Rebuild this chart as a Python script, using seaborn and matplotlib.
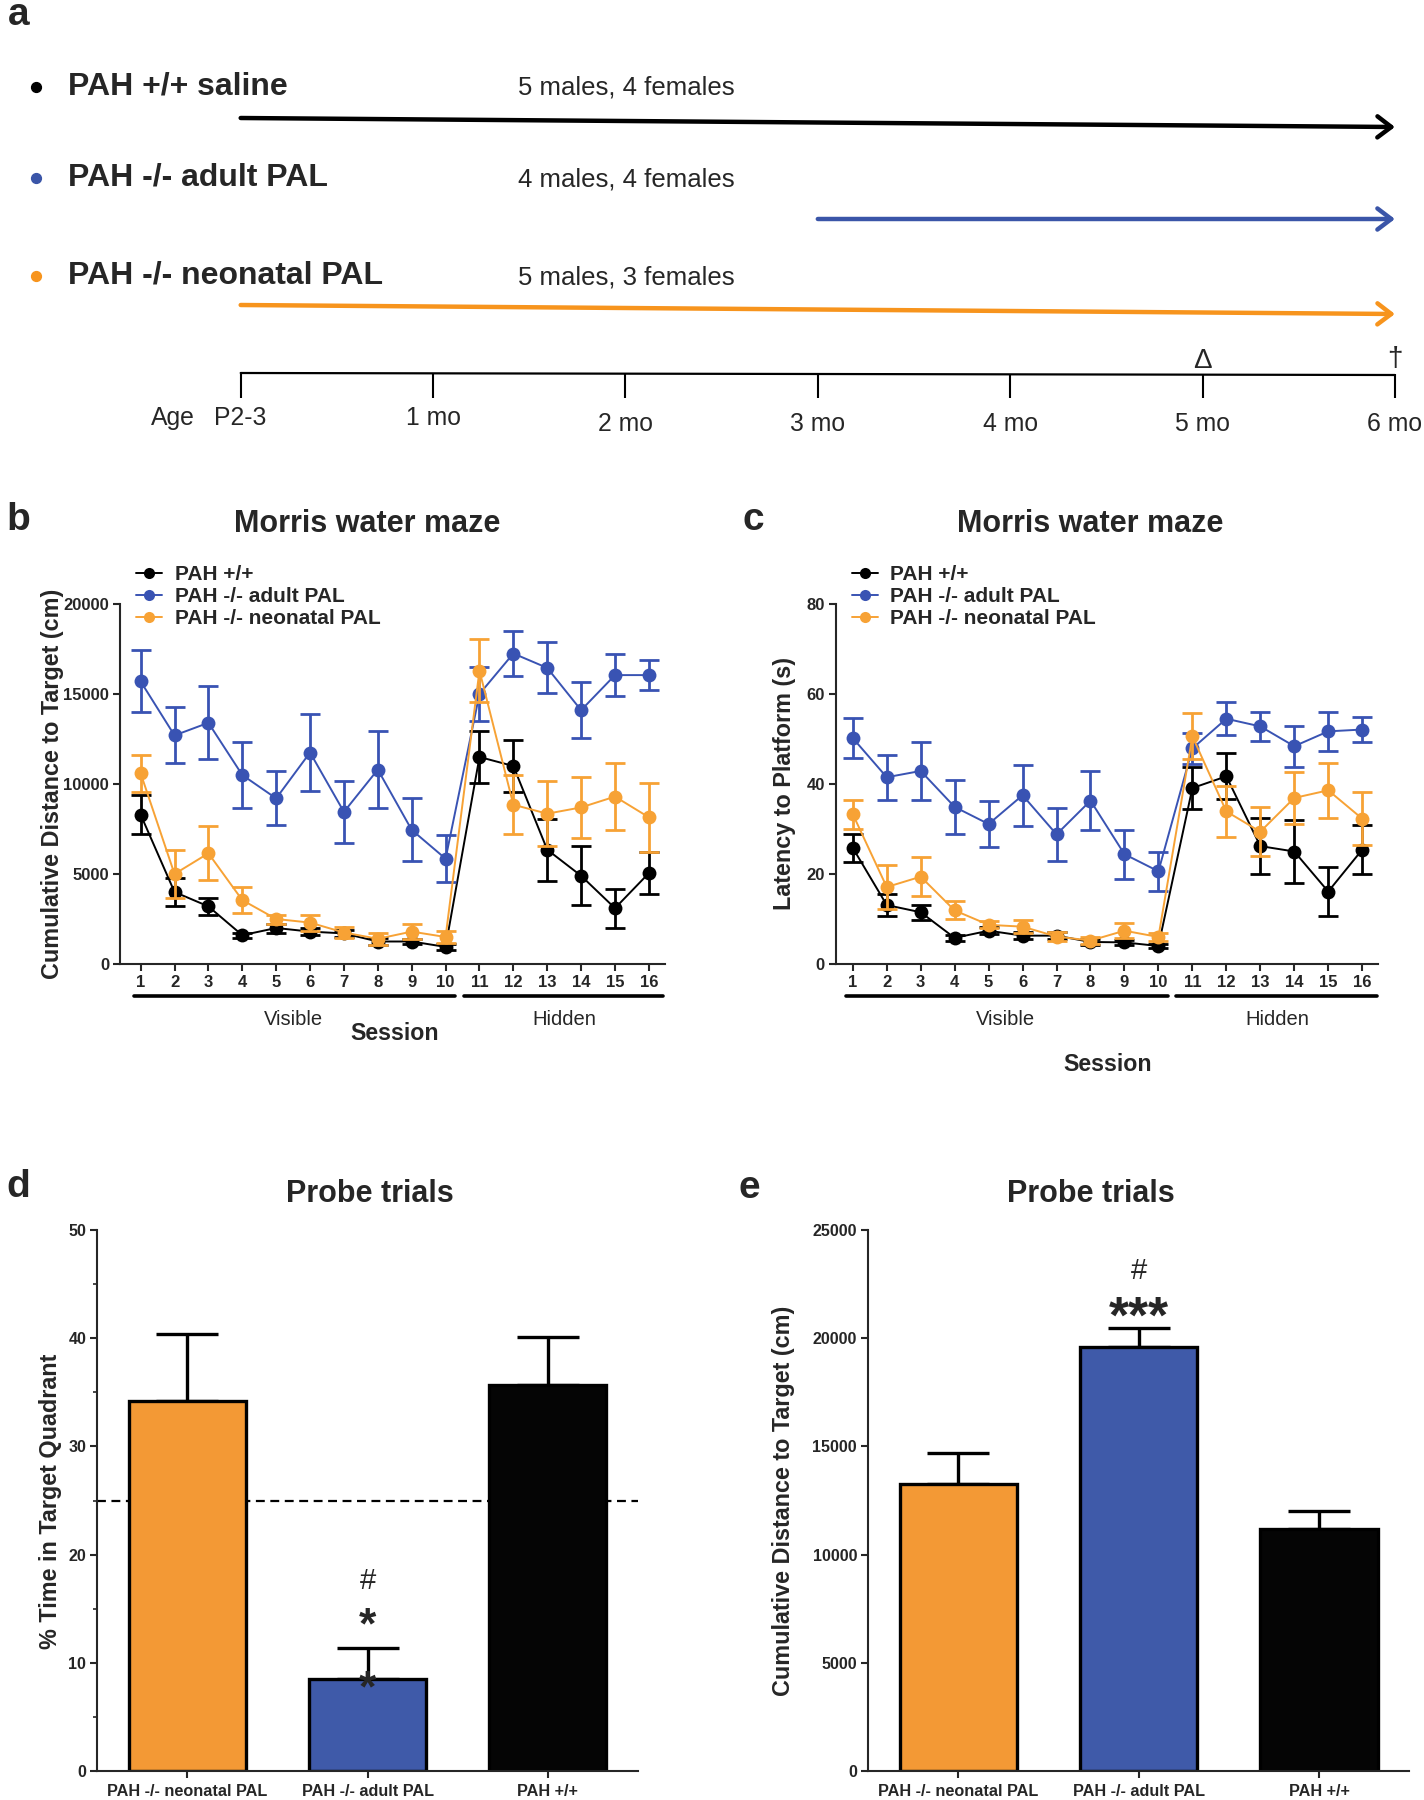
import numpy as np
import pandas as pd
import matplotlib
matplotlib.use('Agg')
import matplotlib.pyplot as plt
import matplotlib.transforms as mtransforms
import seaborn as sns

# ---- data ----
groups = ['PAH +/+', 'PAH -/- adult PAL', 'PAH -/- neonatal PAL']
sessions = list(range(1, 17))

dist_wt = [8300, 4000, 3200, 1600, 2000, 1800, 1700, 1250, 1250, 950, 11500, 11000, 6350, 4900, 3100, 5050]
dist_wt_err = [1100, 800, 490, 150, 250, 200, 200, 200, 150, 150, 1420, 1440, 1720, 1640, 1080, 1150]
dist_adult = [15700, 12700, 13400, 10500, 9200, 11750, 8450, 10800, 7450, 5850, 15000, 17250, 16450, 14100, 16050, 16050]
dist_adult_err = [1720, 1560, 2030, 1815, 1500, 2160, 1700, 2130, 1750, 1300, 1510, 1270, 1420, 1570, 1180, 850]
dist_neo = [10600, 5000, 6150, 3550, 2500, 2300, 1750, 1400, 1800, 1500, 16300, 8850, 8350, 8700, 9300, 8150]
dist_neo_err = [1020, 1340, 1510, 715, 250, 450, 300, 340, 400, 320, 1760, 1640, 1790, 1710, 1850, 1920]

lat_wt = [25.8, 13.1, 11.5, 5.8, 7.4, 6.3, 6.3, 4.9, 4.8, 4.0, 39.1, 41.7, 26.2, 25.0, 16.1, 25.4]
lat_wt_err = [3.1, 2.4, 1.7, 0.6, 0.8, 0.8, 0.8, 0.6, 0.5, 0.5, 4.6, 5.1, 6.2, 6.9, 5.4, 5.5]
lat_adult = [50.2, 41.5, 42.9, 34.9, 31.1, 37.5, 28.8, 36.3, 24.4, 20.6, 47.9, 54.5, 52.8, 48.4, 51.7, 52.1]
lat_adult_err = [4.5, 5.0, 6.5, 6.0, 5.2, 6.8, 5.9, 6.5, 5.4, 4.3, 3.5, 3.7, 3.2, 4.6, 4.4, 2.7]
lat_neo = [33.3, 17.1, 19.4, 11.9, 8.7, 8.3, 6.1, 5.2, 7.4, 6.0, 50.6, 33.9, 29.4, 36.9, 38.6, 32.3]
lat_neo_err = [3.2, 4.8, 4.3, 2.0, 0.8, 1.4, 1.0, 0.8, 1.7, 0.9, 5.1, 5.6, 5.5, 5.8, 6.1, 5.9]

phase_names = ['Visible', 'Hidden']
phase_first = [1, 11]
phase_last = [10, 16]

probe_groups = ['PAH -/- neonatal PAL', 'PAH -/- adult PAL', 'PAH +/+']
probe_time = [34.2, 8.5, 35.7]
probe_time_err = [6.2, 2.9, 4.4]
probe_dist = [13270, 19580, 11200]
probe_dist_err = [1410, 900, 810]
chance_level = 25

timeline_names = ['PAH +/+ saline', 'PAH -/- adult PAL', 'PAH -/- neonatal PAL']
timeline_counts = ['5 males, 4 females', '4 males, 4 females', '5 males, 3 females']
timeline_start = [0, 3, 0]
timeline_end = 6
age_ticks = [0, 1, 2, 3, 4, 5, 6]
age_labels = ['P2-3', '1 mo', '2 mo', '3 mo', '4 mo', '5 mo', '6 mo']

# ---- colours ----
line_pal = {'PAH +/+': '#000000', 'PAH -/- adult PAL': '#3953B3', 'PAH -/- neonatal PAL': '#F7A235'}
bar_pal = {'PAH -/- neonatal PAL': '#F39935', 'PAH -/- adult PAL': '#3F5AA9', 'PAH +/+': '#050505'}
arrow_cols = ['#000000', '#3A55A8', '#F7941D']

sns.set_style('ticks')
plt.rcParams['font.family'] = ['Liberation Sans', 'DejaVu Sans']
plt.rcParams['axes.linewidth'] = 1.5

W, H = 1424, 1800
fig = plt.figure(figsize=(W / 100, H / 100), dpi=100)


def fx(px):
    return px / W


def fy(py):
    return 1 - py / H


# ================= panel a: timeline =================
ax_a = fig.add_axes([0, 0.75, 1, 0.25])
ax_a.axis('off')
ax_a.set_xlim(-1.251, 6.151)
ax_a.set_ylim(450, 0)

row_y = [118, 219, 305]
row_drop = [9, 0, 9]
text_base = [94.5, 186, 284]
for i in range(3):
    ax_a.scatter([-1.064], [text_base[i] - 8], s=50, color=arrow_cols[i], zorder=3)
    ax_a.text(-0.9, text_base[i], timeline_names[i], fontsize=23, fontweight='bold', va='baseline', ha='left')
    ax_a.text(1.44, text_base[i], timeline_counts[i], fontsize=18.5, va='baseline', ha='left')
    ax_a.annotate('', xy=(timeline_end, row_y[i] + row_drop[i]),
                  xytext=(timeline_start[i], row_y[i]),
                  arrowprops=dict(arrowstyle='->,head_length=0.5,head_width=0.38', lw=3.2,
                                  color=arrow_cols[i], shrinkA=0, shrinkB=0, mutation_scale=20))

ax_a.plot([age_ticks[0], age_ticks[-1]], [373, 375], color='black', lw=1.6)
ax_a.vlines(age_ticks, 374, 398, color='black', lw=1.5)
label_base = [425, 425, 431, 431, 431, 431, 431]
for t, lab, yb in zip(age_ticks, age_labels, label_base):
    ax_a.text(t, yb, lab, fontsize=17.8, ha='center', va='baseline')
ax_a.text(-0.354, 425, 'Age', fontsize=17.8, ha='center', va='baseline')
ax_a.text(5, 368, 'Δ', fontsize=20, ha='center', va='baseline')
ax_a.text(6, 366, '†', fontsize=20, ha='center', va='baseline')


# ================= panels b, c: Morris water maze =================
def maze_panel(rect, xlim, series, errs, ylim, yticks, ylabel, ylab_x, session_base):
    ax = fig.add_axes(rect)
    df = pd.DataFrame({
        'session': sessions * 3,
        'value': sum(series, []),
        'group': sum([[g] * len(sessions) for g in groups], []),
    })
    sns.lineplot(data=df, x='session', y='value', hue='group', hue_order=groups,
                 palette=line_pal, marker='o', markersize=10, markeredgewidth=0,
                 linewidth=1.4, legend=False, ax=ax)
    lines = ax.get_lines()[:3]
    for i, g in enumerate(groups):
        lines[i].set_zorder(3 + 2 * i)
        ax.errorbar(sessions, series[i], yerr=errs[i], fmt='none', ecolor=line_pal[g],
                    elinewidth=2.0, capsize=7, capthick=2.0, zorder=2 + 2 * i)
    ax.set_xlim(*xlim)
    ax.set_ylim(*ylim)
    ax.set_xticks(sessions)
    ax.set_yticks(yticks)
    ax.set_xlabel('')
    ax.set_ylabel('')
    sns.despine(ax=ax)
    ax.tick_params(direction='out', length=5, width=1.5, labelsize=12, pad=3)
    for lab in ax.get_xticklabels() + ax.get_yticklabels():
        lab.set_fontweight('bold')

    leg = ax.legend(lines, groups, loc='upper left', frameon=False,
                    bbox_to_anchor=(fx(rect[0] * W + 16), fy(565)), bbox_transform=fig.transFigure,
                    prop={'weight': 'bold', 'size': 15}, handlelength=1.25, handletextpad=0.6,
                    labelspacing=0.14, borderpad=0, borderaxespad=0)
    for h in leg.legend_handles:
        h.set_markersize(8)

    trans = mtransforms.blended_transform_factory(ax.transData, ax.transAxes)
    edges = [(0.8, 10.27), (10.53, 16.43)]
    for name, first, last, (l, r) in zip(phase_names, phase_first, phase_last, edges):
        ax.plot([l, r], [-0.089, -0.089], color='black', lw=2.6, transform=trans, clip_on=False,
                solid_capstyle='round')
        ax.text((first + last) / 2, -0.169, name, fontsize=14.5, ha='center', va='baseline',
                transform=trans)
    ax.text(8.5, session_base, 'Session', fontsize=16.7, fontweight='bold', ha='center',
            va='baseline', transform=trans)
    fig.text(fx(ylab_x), fy(784), ylabel, rotation=90, fontsize=16.8, fontweight='bold',
             ha='center', va='center')
    return ax


ax_b = maze_panel([fx(120.3), fy(964), fx(664.8 - 120.3), 0.2], (0.4, 16.47),
                  [dist_wt, dist_adult, dist_neo], [dist_wt_err, dist_adult_err, dist_neo_err],
                  (0, 20000), [0, 5000, 10000, 15000, 20000],
                  'Cumulative Distance to Target (cm)', 53, -0.211)
ax_c = maze_panel([fx(835.8), fy(964), fx(1377.8 - 835.8), 0.2], (0.5, 16.46),
                  [lat_wt, lat_adult, lat_neo], [lat_wt_err, lat_adult_err, lat_neo_err],
                  (0, 80), [0, 20, 40, 60, 80],
                  'Latency to Platform (s)', 785, -0.297)


# ================= panels d, e: probe trials =================
def probe_panel(rect, values, errs, ylim, yticks, ylabel, ylab_x, minor=None):
    ax = fig.add_axes(rect)
    if minor is not None:
        ax.axhline(chance_level, color='black', lw=1.6, ls=(0, (4, 2.5)), zorder=0.5)
    sns.barplot(x=probe_groups, y=values, hue=probe_groups, order=probe_groups,
                hue_order=probe_groups, palette=bar_pal, saturation=1, width=0.65,
                edgecolor='black', linewidth=2.4, legend=False, ax=ax, zorder=2)
    ax.errorbar(range(3), values, yerr=[[0, 0, 0], errs], fmt='none', ecolor='black',
                elinewidth=2.4, capsize=22, capthick=2.4, zorder=1)
    ax.set_xlim(-0.5, 2.5)
    ax.set_ylim(*ylim)
    ax.set_yticks(yticks)
    if minor is not None:
        ax.set_yticks(minor, minor=True)
    ax.set_xlabel('')
    ax.set_ylabel('')
    sns.despine(ax=ax)
    ax.tick_params(direction='out', length=5, width=1.5, labelsize=11.5, pad=3)
    ax.tick_params(which='minor', direction='out', length=3, width=1.2)
    ax.tick_params(axis='x', labelsize=11.7, pad=4)
    for lab in ax.get_xticklabels() + ax.get_yticklabels():
        lab.set_fontweight('bold')
    fig.text(fx(ylab_x), fy(1501), ylabel, rotation=90, fontsize=16.8, fontweight='bold',
             ha='center', va='center')
    return ax


ax_d = probe_panel([fx(97.3), fy(1771), fx(638 - 97.3), fy(1230) - fy(1771)], probe_time,
                   probe_time_err, (0, 50), [0, 10, 20, 30, 40, 50], '% Time in Target Quadrant',
                   50.5, minor=[5, 15, 25, 35, 45])
ax_d.text(1, 17.6, '#', fontsize=21, ha='center', va='center')
ax_d.text(1, 13.3, '*', fontsize=32, fontweight='bold', ha='center', va='center')
ax_d.text(1, 7.5, '*', fontsize=32, fontweight='bold', ha='center', va='center', zorder=5)

ax_e = probe_panel([fx(868.2), fy(1771), fx(1409.3 - 868.2), fy(1230) - fy(1771)], probe_dist,
                   probe_dist_err, (0, 25000), [0, 5000, 10000, 15000, 20000, 25000],
                   'Cumulative Distance to Target (cm)', 783)
ax_e.text(1, 23100, '#', fontsize=21, ha='center', va='center')
ax_e.text(1, 20900, '***', fontsize=37, fontweight='bold', ha='center', va='center')

# ---- panel letters and titles ----
title_col = '#262626'
for letter, x, yb in [('a', 8, 25), ('b', 6, 530), ('c', 742, 530), ('d', 6, 1197), ('e', 738, 1198)]:
    fig.text(fx(x), fy(yb), letter, fontsize=28, fontweight='bold', va='baseline', ha='left')
for title, x, yb in [('Morris water maze', 367, 532), ('Morris water maze', 1090.5, 532),
                     ('Probe trials', 369.6, 1202), ('Probe trials', 1090.5, 1202)]:
    fig.text(fx(x), fy(yb), title, fontsize=22, fontweight='bold', color=title_col,
             ha='center', va='baseline')

fig.savefig('out.png', dpi=100)
